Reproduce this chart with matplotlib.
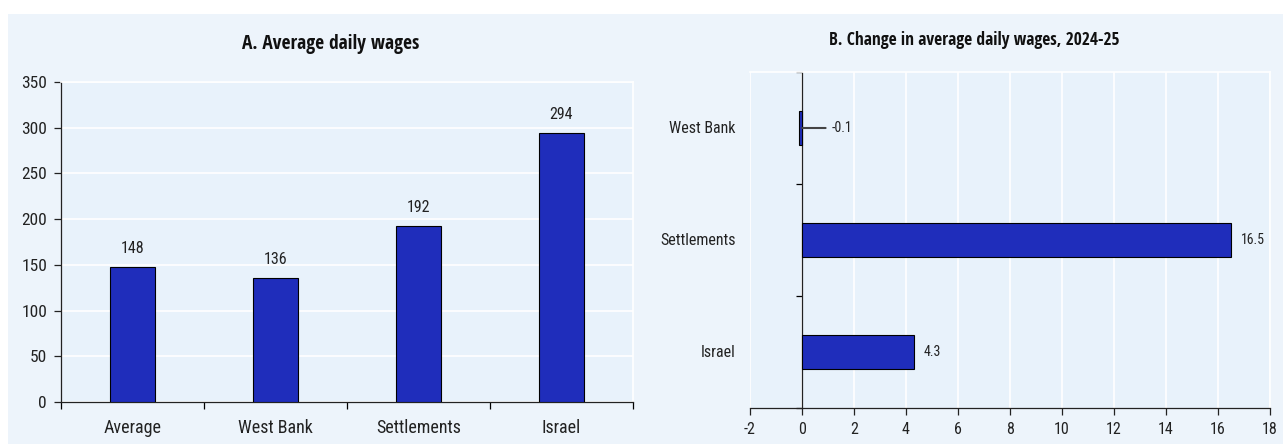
import matplotlib
matplotlib.use("Agg")
import matplotlib.pyplot as plt
from matplotlib.patches import Rectangle
import numpy as np

# Panel A: average daily wages
wage_categories = ["Average", "West Bank", "Settlements", "Israel"]
wage_values = [148, 136, 192, 294]

# Panel B: change in average daily wages, 2024-25
change_categories = ["West Bank", "Settlements", "Israel"]
change_values = [-0.1, 16.5, 4.3]

BAR = "#1F2DBB"
PANEL = "#EDF4FB"
AX_BG = "#E8F2FB"
FONT = ["Roboto Condensed", "DejaVu Sans"]
TITLE_FONT = ["Open Sans Condensed", "Roboto Condensed", "DejaVu Sans"]

plt.rcParams["font.family"] = FONT
plt.rcParams["axes.unicode_minus"] = False

fig = plt.figure(figsize=(12.83, 4.44), dpi=100, facecolor="white")
fig.patches.append(Rectangle((8 / 1283, 0), 1 - 8 / 1283, 1 - 14 / 444,
                             transform=fig.transFigure, facecolor=PANEL,
                             edgecolor="none", zorder=-10))

# ---------- Panel A ----------
axA = fig.add_axes([61 / 1283, 1 - 402 / 444, 572 / 1283, 320 / 444])
axA.set_facecolor(AX_BG)
xa = np.arange(len(wage_categories))
axA.bar(xa, wage_values, width=0.32, color=BAR, edgecolor="black",
        linewidth=0.8, zorder=3)
for x, v in zip(xa, wage_values):
    axA.annotate(f"{v:g}", (x, v), xytext=(0, 8), textcoords="offset points",
                 ha="center", va="bottom", fontsize=11.5, color="#222222")
axA.set_xlim(-0.5, len(wage_categories) - 0.5)
axA.set_ylim(0, 350)
axA.set_yticks(np.arange(0, 351, 50))
axA.set_xticks(xa)
axA.set_xticklabels(wage_categories, fontsize=13)
axA.set_xticks(np.arange(-0.5, len(wage_categories)), minor=True)
axA.tick_params(axis="x", which="major", length=0, pad=12, colors="#222222")
axA.tick_params(axis="x", which="minor", length=5, width=0.9, direction="out")
axA.tick_params(axis="y", length=5, width=0.9, labelsize=12.5, pad=5, colors="#222222")
axA.grid(axis="y", color="white", linewidth=1.2, zorder=0)
axA.set_axisbelow(True)
for s in ("top", "right"):
    axA.spines[s].set_color("white")
    axA.spines[s].set_linewidth(1.2)
for s in ("left", "bottom"):
    axA.spines[s].set_color("#222222")
    axA.spines[s].set_linewidth(0.9)
fig.text(331 / 1283, 1 - 44 / 444, "A. Average daily wages", ha="center",
         va="center", fontsize=14, fontweight="bold", color="#111111",
         family=TITLE_FONT)

# ---------- Panel B ----------
axB = fig.add_axes([750 / 1283, 1 - 408 / 444, 520 / 1283, 336 / 444])
axB.set_facecolor(AX_BG)
yb = np.arange(len(change_categories))
axB.barh(yb, change_values, height=0.31, color=BAR, edgecolor="black",
         linewidth=0.8, zorder=3)
axB.set_xlim(-2, 18)
axB.set_ylim(len(change_categories) - 0.5, -0.5)
axB.set_xticks(np.arange(-2, 19, 2))
axB.tick_params(axis="x", length=5, width=0.9, labelsize=11.5, pad=5, colors="#222222")
axB.grid(axis="x", color="white", linewidth=1.2, zorder=0)
axB.set_axisbelow(True)
axB.spines["left"].set_position(("data", 0))
axB.spines["left"].set_color("#222222")
axB.spines["left"].set_linewidth(0.9)
axB.spines["bottom"].set_color("#222222")
axB.spines["bottom"].set_linewidth(0.9)
for s in ("top", "right"):
    axB.spines[s].set_color("white")
    axB.spines[s].set_linewidth(1.2)
axB.set_yticks(np.arange(-0.5, len(change_categories)))
axB.set_yticklabels([])
axB.tick_params(axis="y", length=4, width=0.9, direction="out")
for y, name in zip(yb, change_categories):
    axB.text(-0.028, y, name, transform=axB.get_yaxis_transform(),
             ha="right", va="center", fontsize=11.5, color="#222222")
for y, v in zip(yb, change_values):
    if v < 0:
        axB.annotate(f"{v:g}", (0, y), xytext=(21, 0), textcoords="offset points",
                     ha="left", va="center", fontsize=10, color="#222222",
                     arrowprops=dict(arrowstyle="-", color="#444444", lw=1.5,
                                     shrinkA=2, shrinkB=0))
    else:
        axB.annotate(f"{v:g}", (v, y), xytext=(7, 0), textcoords="offset points",
                     ha="left", va="center", fontsize=10, color="#222222")
fig.text(974 / 1283, 1 - 40 / 444, "B. Change in average daily wages, 2024-25",
         ha="center", va="center", fontsize=12.5, fontweight="bold", color="#111111",
         family=TITLE_FONT)

fig.savefig("out.png", dpi=100, facecolor="white")
